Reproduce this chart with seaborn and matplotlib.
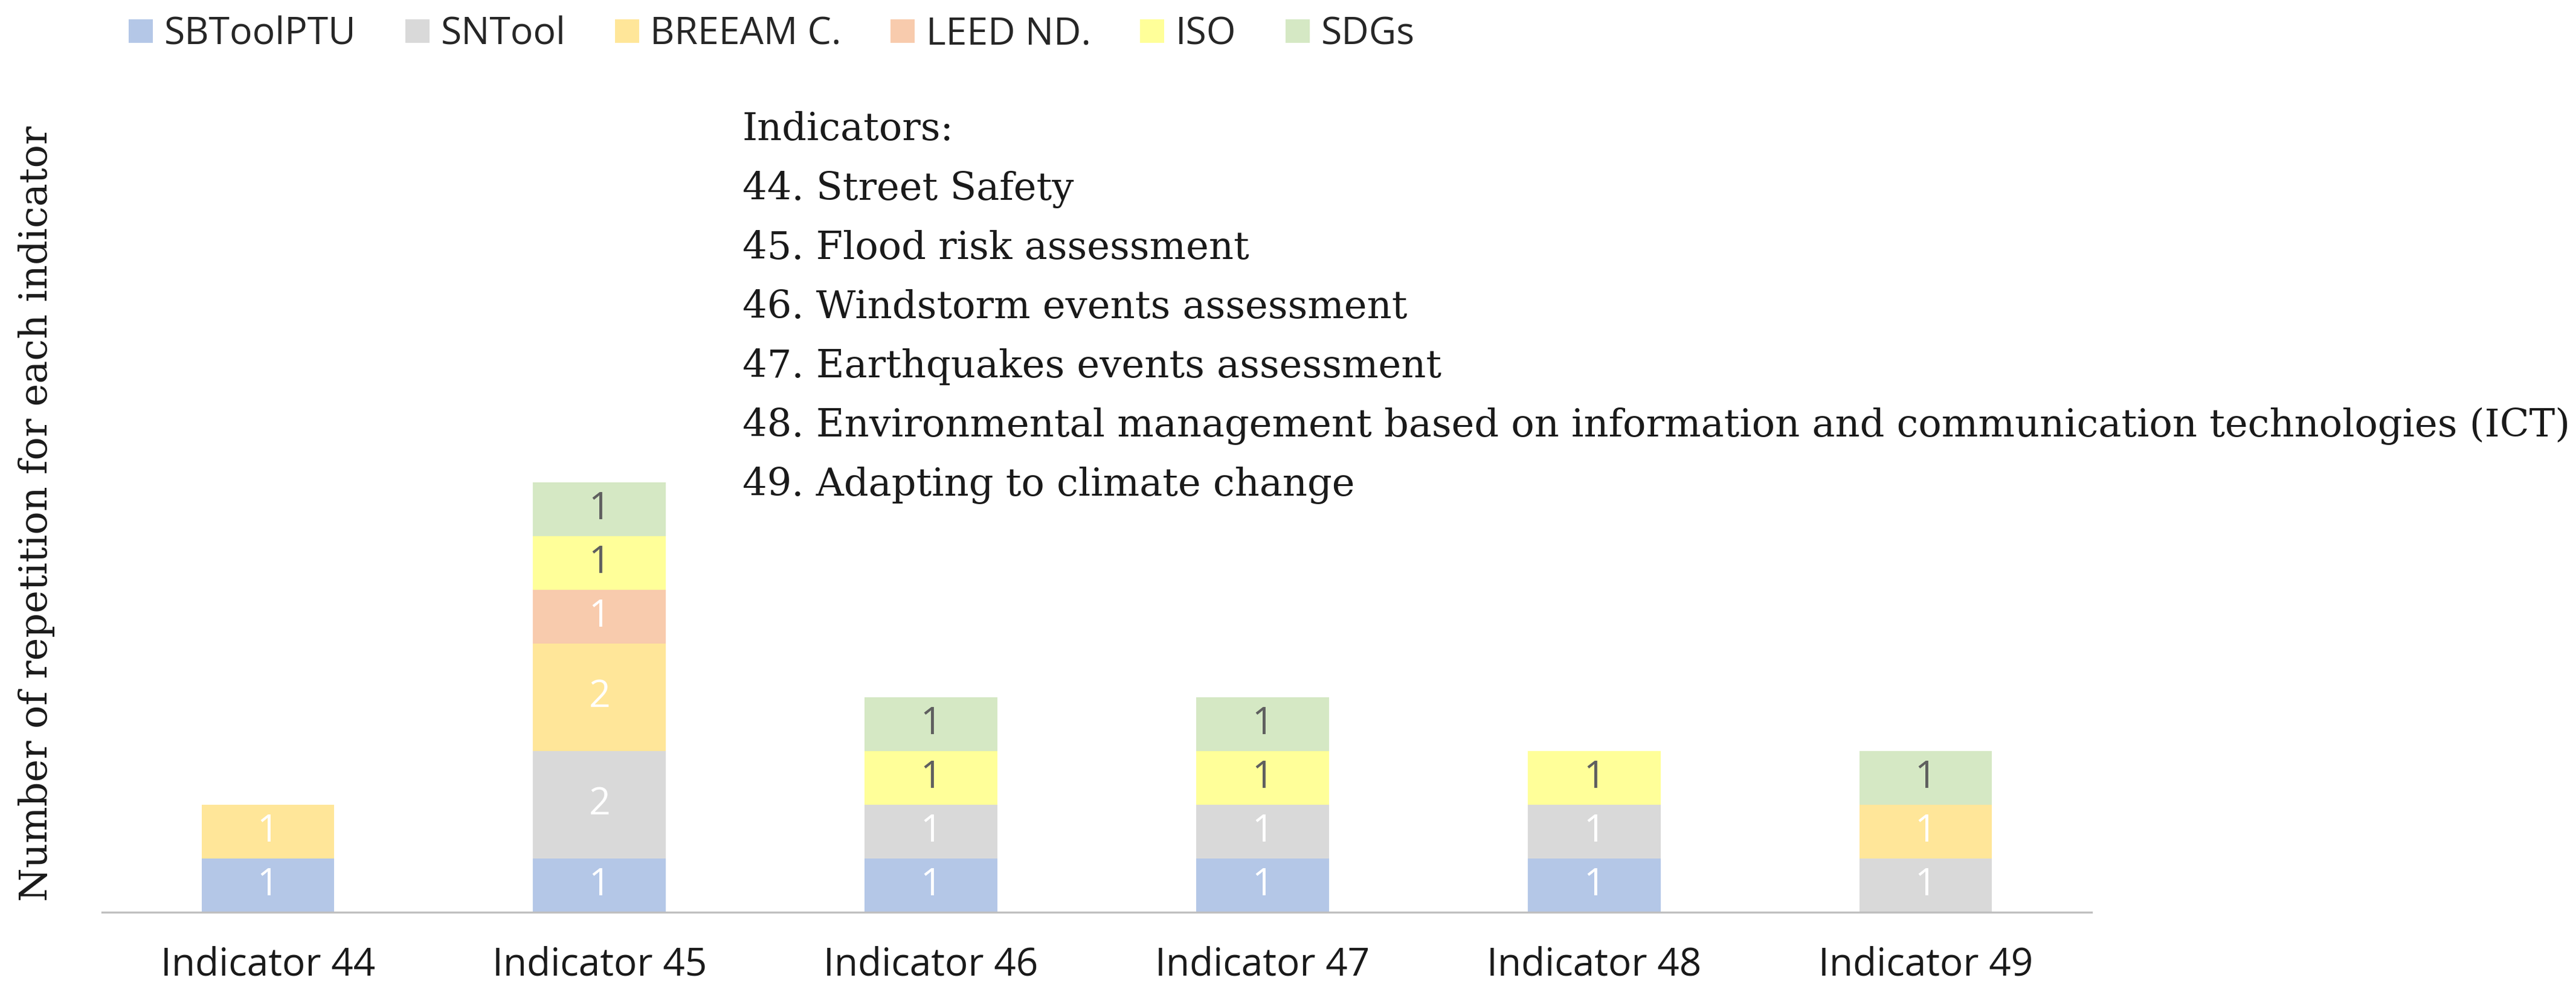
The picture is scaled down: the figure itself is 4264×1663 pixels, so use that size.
import numpy as np
import pandas as pd
import seaborn as sns
import matplotlib.pyplot as plt
from matplotlib.patches import Patch

# data
indicators = ['Indicator 44', 'Indicator 45', 'Indicator 46', 'Indicator 47', 'Indicator 48', 'Indicator 49']
tools = ['SBToolPTU', 'SNTool', 'BREEAM C.', 'LEED ND.', 'ISO', 'SDGs']
sbtoolptu = [1, 1, 1, 1, 1, 0]
sntool = [0, 2, 1, 1, 1, 1]
breeam = [1, 2, 0, 0, 0, 1]
leed = [0, 1, 0, 0, 0, 0]
iso = [0, 1, 1, 1, 1, 0]
sdgs = [0, 1, 1, 1, 0, 1]
series = [sbtoolptu, sntool, breeam, leed, iso, sdgs]

colors = ['#B4C7E7', '#D9D9D9', '#FFE699', '#F8CBAD', '#FFFF99', '#D5E8C4']
label_colors = ['white', 'white', 'white', 'white', '#5f5f5f', '#5f5f5f']

notes_title = 'Indicators:'
indicator_notes = [
    '44. Street Safety',
    '45. Flood risk assessment',
    '46. Windstorm events assessment',
    '47. Earthquakes events assessment',
    '48. Environmental management based on information and communication technologies (ICT)',
    '49. Adapting to climate change',
]

sns.set_style('white')
plt.rcParams['font.family'] = ['Open Sans', 'DejaVu Sans']

W, H = 4264, 1663
fig = plt.figure(figsize=(W / 100, H / 100), dpi=100)
ax = fig.add_axes([169 / W, 152 / H, (3462 - 169) / W, 1364 / H])

# stacked bars: draw cumulative totals from the top layer down
counts = np.array(series)
cum = counts.cumsum(axis=0)
for k in range(len(tools) - 1, -1, -1):
    df = pd.DataFrame({'indicator': indicators, 'total': cum[k]})
    sns.barplot(data=df, x='indicator', y='total', order=indicators, color=colors[k],
                saturation=1, width=0.4, linewidth=0, errorbar=None, ax=ax)

# value labels in the middle of each segment
for k in range(len(tools)):
    base = cum[k] - counts[k]
    for i, v in enumerate(counts[k]):
        if v > 0:
            ax.text(i, base[i] + v / 2, str(v), ha='center', va='center',
                    fontsize=45, color=label_colors[k])

ax.set_xlim(-0.5, len(indicators) - 0.5)
ax.set_ylim(0, 1364 / 89)
ax.set_xlabel('')
ax.set_ylabel('')
ax.set_yticks([])
sns.despine(ax=ax, left=True)
ax.spines['bottom'].set_color('#BFBFBF')
ax.spines['bottom'].set_linewidth(2.4)

ax.set_xticks(range(len(indicators)))
ax.set_xticklabels(indicators, fontsize=46, color='#1a1a1a')
ax.tick_params(axis='x', which='major', length=0, pad=40)
ax.set_xticks(np.arange(-0.5, len(indicators)), minor=True)
ax.tick_params(axis='x', which='minor', length=15, width=1.6, color='#BFBFBF')

fig.text(60 / W, 1 - 851 / H, 'Number of repetition for each indicator', rotation=90,
         ha='center', va='center', fontsize=46, family='DejaVu Serif', color='#1a1a1a')

# notes block
baselines = [232, 331, 429, 527, 625, 723, 821]
for txt, yb in zip([notes_title] + indicator_notes, baselines):
    fig.text(1229 / W, 1 - yb / H, txt, ha='left', va='baseline', fontsize=46,
             family='DejaVu Serif', color='#1a1a1a')

handles = [Patch(facecolor=c, edgecolor='none', label=t) for t, c in zip(tools, colors)]
fig.legend(handles=handles, loc='center left', bbox_to_anchor=(213 / W, 1 - 57 / H), ncol=6,
           frameon=False, fontsize=45, handlelength=0.64, handleheight=0.58,
           handletextpad=0.3, columnspacing=1.3, borderpad=0, borderaxespad=0)

fig.savefig('out.png', dpi=100)
